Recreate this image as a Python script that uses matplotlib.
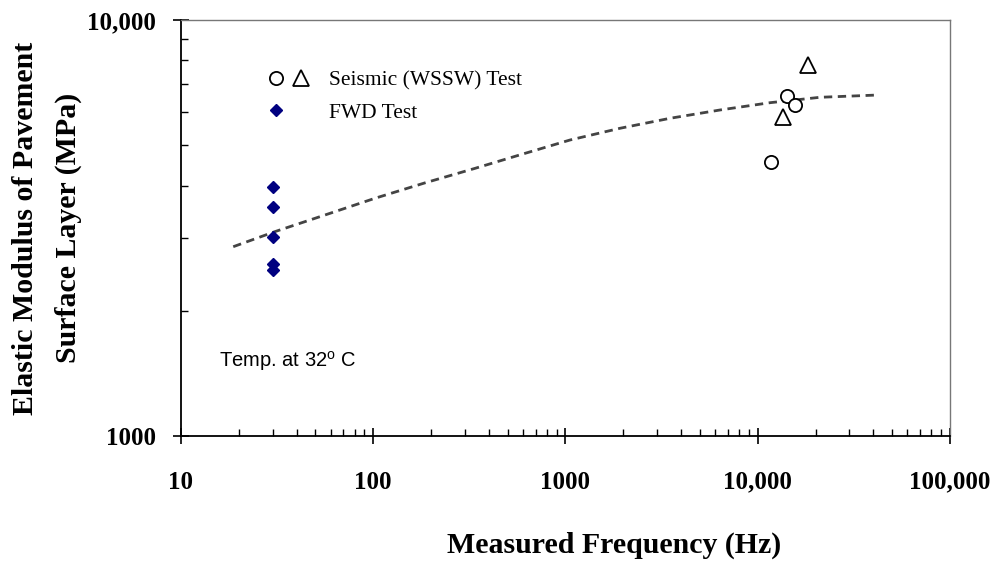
import matplotlib
matplotlib.use("Agg")
import matplotlib.pyplot as plt
from matplotlib.lines import Line2D
from matplotlib.legend_handler import HandlerTuple

plt.rcParams['font.family'] = 'Liberation Serif'
plt.rcParams['mathtext.fontset'] = 'custom'
plt.rcParams['mathtext.rm'] = 'Liberation Sans'

# FWD test (all at ~30 Hz)
fwd_freq = [30, 30, 30, 30, 30]
fwd_mod = [3970, 3550, 3010, 2590, 2505]

# seismic (WSSW) test
circ_freq = [11700, 14200, 15700]
circ_mod = [4560, 6560, 6250]
tri_freq = [18300, 13500]
tri_mod = [7800, 5850]

# trend curve
fit_freq = [18.7, 30.8, 56.1, 102, 186, 339, 617, 1057, 1924, 3502, 6374, 11600, 21120, 42300]
fit_mod = [2851, 3099, 3398, 3727, 4060, 4400, 4781, 5147, 5492, 5804, 6077, 6327, 6519, 6602]

xticks = [10, 100, 1000, 10000, 100000]
xticklabels = ['10', '100', '1000', '10,000', '100,000']
yticks = [1000, 10000]
yticklabels = ['1000', '10,000']

fig = plt.figure(figsize=(10.01, 5.63), dpi=100)
ax = fig.add_axes([0.1808, 0.2256, 0.7682, 0.7389])

ax.plot(fit_freq, fit_mod, ls=(0, (3, 2)), color='#444444', lw=2)
h_fwd, = ax.plot(fwd_freq, fwd_mod, 'D', color='#000080', ms=6.5, ls='none')
h_circ, = ax.plot(circ_freq, circ_mod, 'o', mfc='white', mec='black', mew=1.3, ms=9.5, ls='none')
h_tri, = ax.plot(tri_freq, tri_mod, '^', mfc='white', mec='black', mew=1.3, ms=11, ls='none')
blank = Line2D([], [], ls='none', marker='none')

ax.set_xscale('log')
ax.set_yscale('log')
ax.set_xlim(10, 100000)
ax.set_ylim(1000, 10000)
ax.set_xticks(xticks, xticklabels)
ax.set_yticks(yticks, yticklabels)

for lab in ax.get_xticklabels() + ax.get_yticklabels():
    lab.set_fontweight('bold')
    lab.set_fontsize(18)

ax.tick_params(axis='x', which='major', direction='inout', length=12, width=1.2, pad=19)
ax.tick_params(axis='y', which='major', direction='inout', length=12, width=1.2, pad=12)
ax.tick_params(which='minor', direction='in', length=5, width=1)
ax.tick_params(axis='y', which='minor', labelleft=False)
ax.tick_params(axis='x', which='minor', labelbottom=False)

for s in ['left', 'bottom']:
    ax.spines[s].set_linewidth(1.3)
    ax.spines[s].set_color('black')
for s in ['top', 'right']:
    ax.spines[s].set_linewidth(1)
    ax.spines[s].set_color('#777777')

ax.set_xlabel('Measured Frequency (Hz)', fontsize=21.5, fontweight='bold', labelpad=27, x=0.563)
ax.set_ylabel('Elastic Modulus of Pavement\nSurface Layer (MPa)', fontsize=21.5,
              fontweight='bold', labelpad=3.5, linespacing=1.75)

leg = ax.legend([(h_circ, h_tri), (h_fwd, blank)], ['Seismic (WSSW) Test', 'FWD Test'],
                handler_map={tuple: HandlerTuple(ndivide=None, pad=0.5)},
                loc='upper left', bbox_to_anchor=(0.0895, 0.925), frameon=False,
                fontsize=15.5, handlelength=1.8, handletextpad=1.0, labelspacing=0.55)

ax.text(0.05, 0.18, r'Temp. at 32$^{\rm o}$ C', transform=ax.transAxes,
        fontsize=14.5, family='Liberation Sans', va='center')

fig.savefig('out.png', dpi=100)
